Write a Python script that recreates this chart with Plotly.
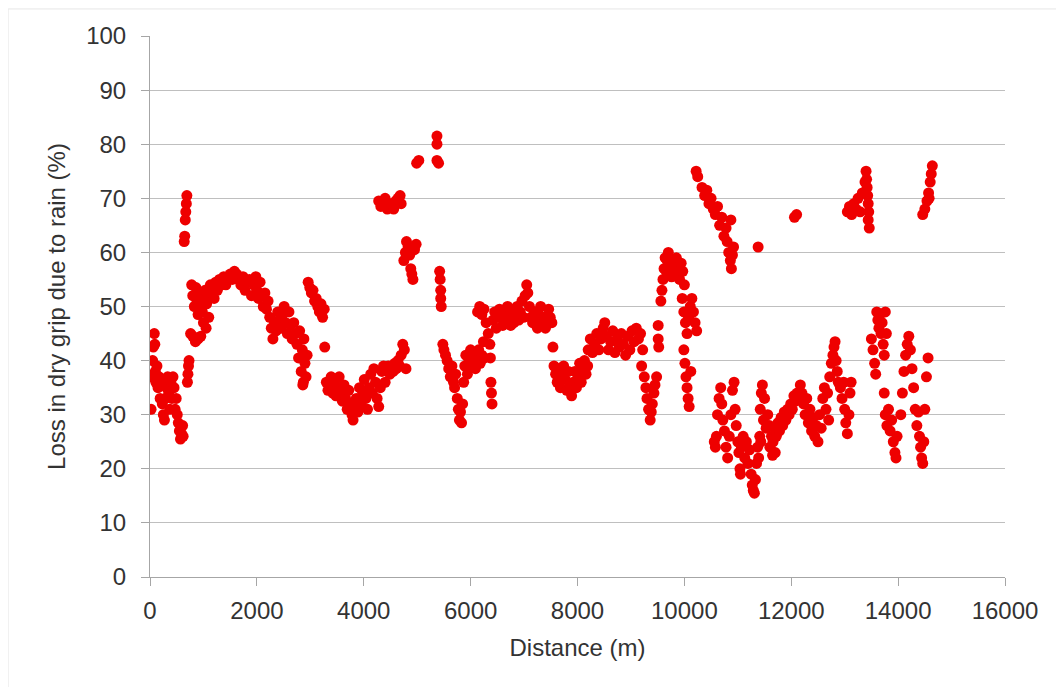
import plotly.graph_objects as go

# (distance m, loss %) readings, grouped by stretch of road
seg_0_1000 = [
    (20, 31), (40, 37), (50, 40), (60, 42.5), (80, 45), (90, 43), (100, 38), (110, 36), (130, 39),
    (150, 35), (170, 37), (190, 33), (210, 36), (230, 32), (250, 30), (270, 29), (290, 33), (310, 35),
    (330, 37), (350, 34), (370, 31), (390, 36), (410, 33), (430, 37), (450, 35), (470, 31), (490, 33),
    (510, 30), (530, 28.5), (550, 27), (570, 25.5), (590, 26.5), (610, 28), (620, 26),
    (640, 62), (650, 63), (660, 66), (670, 67.5), (680, 69), (690, 70.5),
    (700, 36), (710, 37.5), (720, 39), (730, 40),
    (760, 45), (800, 44.5), (850, 43.5), (900, 44), (950, 44.5),
]
seg_1000_3300 = [
    (780, 54), (800, 52), (830, 50), (860, 53.5), (880, 51), (900, 48.5), (920, 50.5), (950, 52.5),
    (980, 49), (1000, 51), (1000, 47), (1050, 46), (1100, 48), (1030, 53), (1060, 50.5), (1100, 52),
    (1130, 54), (1160, 53), (1200, 51.5), (1230, 54.5), (1260, 53), (1300, 55), (1340, 54), (1380, 55.5),
    (1420, 54), (1460, 55), (1500, 56), (1540, 55), (1580, 56.5), (1620, 56), (1660, 55), (1700, 54),
    (1740, 55.5), (1780, 53), (1820, 54.5), (1860, 55), (1900, 52), (1940, 54), (1980, 55.5), (2000, 53),
    (2030, 51.5), (2060, 54.5), (2090, 52), (2120, 50), (2150, 52.5), (2180, 49.5), (2210, 51), (2240, 48),
    (2270, 46), (2300, 44), (2330, 47), (2360, 45.5), (2390, 49), (2420, 47.5), (2450, 46), (2480, 48.5),
    (2510, 50), (2540, 47), (2570, 45), (2600, 49), (2630, 46.5), (2660, 44), (2690, 47), (2720, 45),
    (2750, 43), (2780, 40.5), (2800, 45.5), (2830, 38), (2850, 42), (2870, 36), (2880, 44), (2900, 39.5),
    (2920, 37), (2940, 41), (2860, 35.5),
    (2960, 54.5), (2990, 53.5), (3020, 52.5), (3050, 53), (3080, 51), (3110, 51.5), (3140, 50), (3170, 49),
    (3200, 50.5), (3230, 48), (3260, 49.5), (3270, 42.5),
]
seg_3300_5500 = [
    (3300, 36), (3330, 34.5), (3360, 35.5), (3390, 37), (3420, 34), (3450, 36), (3480, 33.5), (3510, 35),
    (3540, 37), (3570, 34), (3600, 32.5), (3630, 35.5), (3660, 33), (3690, 31), (3720, 34.5), (3750, 32),
    (3780, 30), (3800, 29), (3830, 31.5), (3860, 33), (3890, 30.5), (3920, 35), (3950, 32), (3980, 34),
    (4010, 36.5), (4040, 33), (4070, 31), (4100, 35), (4130, 37.5), (4160, 34), (4190, 38.5), (4220, 36),
    (4250, 33), (4280, 31.5), (4310, 35), (4340, 38), (4370, 39), (4400, 36), (4430, 38.5), (4460, 39),
    (4490, 37.5), (4520, 39), (4550, 38), (4580, 39.5), (4610, 38.5), (4640, 40), (4670, 39), (4700, 41),
    (4730, 43), (4760, 42), (4790, 38.5),
    (4280, 69.5), (4320, 68.5), (4360, 69), (4400, 70), (4440, 68), (4480, 69), (4520, 68.5), (4560, 68),
    (4600, 69.5), (4640, 70), (4680, 70.5), (4700, 69),
    (4750, 58.5), (4780, 60), (4800, 62), (4830, 61), (4860, 59.5), (4880, 57), (4900, 56), (4920, 55),
    (4950, 60.5), (4980, 61.5),
    (4990, 76.5), (5030, 77), (5370, 81.5), (5370, 80), (5370, 77), (5400, 76.5),
    (5420, 56.5), (5430, 55), (5440, 53), (5440, 51.5), (5450, 50),
]
seg_5500_8200 = [
    (5480, 43), (5500, 42), (5530, 41), (5560, 40), (5590, 38.5), (5620, 37), (5650, 39), (5680, 36),
    (5700, 35), (5720, 37.5), (5750, 33), (5770, 31), (5790, 29), (5810, 30.5), (5830, 28.5), (5850, 32),
    (5870, 36), (5890, 39), (5910, 41), (5940, 37.5), (5970, 40), (6000, 42), (6030, 39), (6060, 41.5),
    (6090, 38.5), (6120, 40), (6150, 42), (6180, 39.5), (6210, 41), (6240, 43.5), (6260, 40.5),
    (6130, 49), (6170, 50), (6210, 48.5), (6250, 49.5), (6290, 47), (6330, 45), (6360, 43), (6370, 40.5),
    (6380, 36), (6390, 34), (6400, 32), (6420, 47.5), (6450, 49), (6480, 46), (6510, 48), (6540, 49.5),
    (6570, 48), (6600, 46.5), (6630, 49), (6660, 47.5), (6690, 50), (6720, 48), (6750, 46.5), (6780, 49),
    (6810, 47), (6840, 48.5), (6870, 50), (6900, 47.5), (6930, 49), (6960, 51), (6990, 48), (7020, 52),
    (7050, 54), (7070, 52.5), (7100, 50), (7130, 48), (7160, 47), (7190, 49), (7220, 47.5), (7250, 46),
    (7280, 48.5), (7310, 50), (7340, 47), (7370, 48), (7400, 46), (7430, 47.5), (7460, 49.5), (7490, 48),
    (7520, 47), (7540, 42.5),
    (7560, 39), (7590, 37.5), (7620, 36), (7650, 38.5), (7680, 35), (7710, 37), (7740, 39), (7770, 36.5),
    (7800, 34.5), (7830, 38), (7860, 35.5), (7890, 33.5), (7920, 36), (7950, 38), (7980, 35), (8010, 37),
    (8040, 39.5), (8070, 36), (8100, 38), (8130, 40), (8160, 37.5), (8190, 39),
]
seg_8200_10300 = [
    (8200, 42), (8240, 44), (8280, 41.5), (8320, 43), (8360, 45), (8400, 42), (8440, 44), (8480, 46),
    (8510, 47), (8540, 44.5), (8580, 42), (8620, 43.5), (8660, 45.5), (8700, 41.5), (8740, 44), (8780, 42.5),
    (8820, 45), (8860, 43), (8900, 41), (8940, 44.5), (8980, 42), (9020, 45.5), (9060, 43.5), (9100, 46),
    (9140, 44), (9180, 45), (9220, 42), (9200, 39),
    (9250, 37), (9280, 35), (9300, 33), (9330, 31), (9360, 29), (9380, 30.5), (9400, 32), (9430, 34),
    (9450, 35.5), (9480, 37), (9510, 46.5), (9510, 44), (9520, 42.5),
    (9560, 51), (9580, 53), (9600, 55), (9620, 57), (9640, 59), (9660, 56.5), (9680, 58.5), (9700, 60),
    (9730, 57), (9760, 55.5), (9790, 58), (9820, 56), (9850, 59), (9880, 57.5), (9910, 55), (9940, 58),
    (9970, 56.5), (10000, 54),
    (9960, 51.5), (9990, 49), (10020, 47), (10050, 45), (10080, 48), (10110, 50), (10140, 51.5),
    (10170, 49), (10200, 47), (10230, 45.5),
    (9990, 42), (10010, 39.5), (10030, 37), (10050, 35), (10070, 33), (10090, 31.5), (10120, 38),
]
seg_10200_12300 = [
    (10220, 75), (10250, 74), (10330, 72), (10380, 70.5), (10420, 71.5), (10460, 69), (10500, 70),
    (10540, 68), (10580, 67), (10620, 68.5), (10660, 65), (10700, 66.5), (10740, 63), (10780, 64.5),
    (10800, 62), (10830, 60), (10860, 58.5), (10880, 57), (10900, 59.5), (10920, 61), (10870, 66),
    (10560, 25), (10580, 24), (10600, 26), (10620, 30), (10650, 33), (10680, 35), (10700, 32), (10720, 29),
    (10750, 27), (10780, 24), (10810, 22), (10840, 26), (10870, 30), (10900, 34.5), (10930, 36), (10950, 31),
    (10970, 28), (11000, 25), (11020, 23), (11040, 20), (11050, 19),
    (11070, 24), (11100, 26), (11130, 22), (11160, 25), (11190, 21), (11220, 23.5), (11250, 19), (11270, 17),
    (11290, 16), (11310, 15.5), (11330, 18), (11350, 21), (11370, 24), (11390, 22), (11410, 26), (11430, 25),
    (11380, 61),
    (11420, 31), (11440, 34), (11460, 35.5), (11480, 29), (11500, 33), (11530, 27.5), (11560, 30), (11590, 28),
    (11600, 24), (11630, 26), (11650, 22.5), (11660, 25), (11690, 27.5), (11700, 23), (11720, 26),
    (11750, 28.5), (11780, 27), (11810, 29.5), (11840, 28), (11870, 30.5), (11900, 29), (11930, 31),
    (11960, 30), (11990, 32), (12020, 31), (12050, 33.5), (12080, 32.5), (12110, 34), (12140, 33),
    (12170, 35.5), (12200, 34),
    (12060, 66.5), (12100, 67),
]
seg_12300_14700 = [
    (12230, 32), (12260, 30), (12290, 33), (12320, 28.5), (12350, 31), (12380, 27), (12410, 29.5),
    (12440, 26), (12470, 28), (12500, 25), (12530, 30), (12560, 27.5), (12590, 33), (12620, 35),
    (12650, 31), (12680, 34), (12700, 29),
    (12720, 37), (12750, 39.5), (12780, 41), (12800, 42.5), (12820, 43.5), (12840, 40), (12860, 38), (12880, 36),
    (12920, 35), (12950, 33), (12980, 36), (13000, 31), (13020, 28.5), (13050, 26.5), (13080, 30),
    (13100, 34), (13120, 36),
    (13050, 67.5), (13090, 68.5), (13130, 67), (13170, 69), (13210, 68), (13250, 70), (13290, 67.5),
    (13330, 71), (13380, 73), (13400, 75), (13410, 73.5), (13420, 72), (13430, 70.5), (13440, 69),
    (13450, 67.5), (13440, 66), (13460, 64.5),
    (13500, 44), (13530, 42), (13560, 39.5), (13580, 37.5), (13600, 49), (13620, 47.5), (13640, 46),
    (13660, 48.5), (13680, 45), (13700, 47), (13720, 43), (13740, 41), (13760, 49), (13780, 45),
    (13740, 34), (13760, 30), (13790, 28), (13820, 31), (13850, 27), (13880, 29), (13910, 25), (13940, 23),
    (13960, 22), (13980, 26),
    (14050, 30), (14080, 34), (14110, 38), (14140, 41), (14170, 43), (14200, 44.5), (14230, 42),
    (14260, 38.5), (14290, 35), (14320, 31), (14350, 28), (14380, 30.5), (14400, 26), (14420, 24),
    (14440, 22), (14460, 21), (14480, 25), (14500, 31), (14530, 37), (14560, 40.5),
    (14460, 67), (14500, 68), (14540, 69.5), (14570, 71), (14580, 70), (14600, 73), (14620, 74.5), (14640, 76),
]

segments = [seg_0_1000, seg_1000_3300, seg_3300_5500, seg_5500_8200,
            seg_8200_10300, seg_10200_12300, seg_12300_14700]
distance_m = [p[0] for s in segments for p in s]
loss_pct = [p[1] for s in segments for p in s]

x_ticks = list(range(0, 16001, 2000))
y_ticks = list(range(0, 101, 10))

fig = go.Figure()
fig.add_trace(go.Scatter(
    x=distance_m, y=loss_pct, mode="markers",
    marker=dict(size=11, color="#ee0000", line=dict(width=0)),
    showlegend=False,
))

font = "Liberation Sans, Arial, sans-serif"
fig.update_layout(
    width=1056, height=679,
    margin=dict(l=142, r=59, t=28, b=110),
    paper_bgcolor="white", plot_bgcolor="white",
    font=dict(family=font, size=24, color="#333333"),
    xaxis=dict(
        range=[0, 16000], tickvals=x_ticks, tickformat="d", showgrid=False, zeroline=False,
        showline=True, linecolor="#a6a6a6", linewidth=1,
        ticks="outside", ticklen=8, tickcolor="#a6a6a6",
        tickfont=dict(size=24), ticklabelstandoff=4,
        title=dict(text="Distance (m)", font=dict(size=24), standoff=16),
    ),
    yaxis=dict(
        range=[0, 100], tickvals=y_ticks, showgrid=True, gridcolor="#bfbfbf", gridwidth=1,
        zeroline=False, showline=True, linecolor="#a6a6a6", linewidth=1,
        ticks="outside", ticklen=8, tickcolor="#a6a6a6",
        tickfont=dict(size=24), ticklabelstandoff=10,
        title=dict(text="Loss in dry grip due to rain (%)", font=dict(size=24), standoff=13),
    ),
    shapes=[
        dict(type="line", xref="paper", yref="paper", x0=-0.166, x1=-0.166, y0=-0.25, y1=1.05,
             line=dict(color="#e6e6e6", width=1)),
        dict(type="line", xref="paper", yref="paper", x0=-0.166, x1=1.07, y0=1.05, y1=1.05,
             line=dict(color="#e6e6e6", width=1)),
    ],
)

fig.write_html("out.html")
